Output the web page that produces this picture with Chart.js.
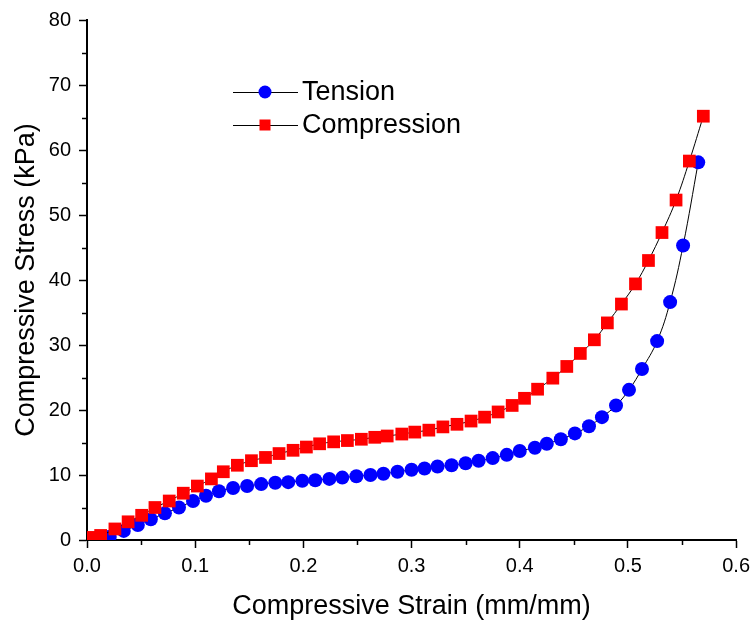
<!DOCTYPE html>
<html><head><meta charset="utf-8">
<script src="https://cdn.jsdelivr.net/npm/chart.js@4/dist/chart.umd.min.js"></script>
<style>html,body{margin:0;padding:0;background:#fff;}#wrap{width:756px;height:625px;position:relative;}</style>
</head><body><div id="wrap"><canvas id="c" width="756" height="625"></canvas></div>
<script>
const tensionStrain = [0.002,0.009,0.021,0.034,0.047,0.059,0.072,0.085,0.098,0.110,0.122,0.135,0.148,0.161,0.174,0.186,0.199,0.211,0.224,0.236,0.249,0.262,0.274,0.287,0.300,0.312,0.324,0.337,0.350,0.362,0.375,0.388,0.400,0.414,0.425,0.438,0.451,0.464,0.476,0.489,0.501,0.513,0.527,0.539,0.551,0.565];
const tensionStress = [0.05,0.2,0.5,1.4,2.3,3.2,4.1,5.0,6.0,6.8,7.5,8.0,8.3,8.6,8.8,8.9,9.1,9.2,9.4,9.6,9.8,10.0,10.2,10.5,10.8,11.0,11.3,11.5,11.8,12.2,12.6,13.1,13.7,14.2,14.8,15.5,16.4,17.5,18.9,20.7,23.1,26.3,30.6,36.6,45.3,58.1];
const compressionStrain = [0.003,0.0126,0.0258,0.038,0.0505,0.0628,0.076,0.089,0.102,0.115,0.126,0.139,0.152,0.165,0.1775,0.1905,0.2028,0.215,0.228,0.2407,0.2536,0.266,0.2775,0.291,0.303,0.316,0.329,0.342,0.355,0.3675,0.380,0.393,0.4044,0.4165,0.4306,0.4435,0.456,0.469,0.481,0.494,0.507,0.519,0.5315,0.5445,0.5568,0.5697];
const compressionStress = [0.4,0.7,1.7,2.8,3.8,5.0,6.0,7.2,8.3,9.4,10.5,11.5,12.2,12.7,13.3,13.8,14.3,14.8,15.1,15.3,15.5,15.8,16.0,16.3,16.6,16.9,17.4,17.8,18.3,18.9,19.7,20.7,21.8,23.2,24.9,26.7,28.7,30.8,33.4,36.3,39.4,43.0,47.3,52.3,58.3,65.2];
const seriesNames = ['Tension','Compression'];
const xMinorTicks = [0.05,0.15,0.25,0.35,0.45,0.55];
const yMinorTicks = [5,15,25,35,45,55,65,75];

const FONT = "'Liberation Sans', Arial, sans-serif";
const toXY = (xs, ys) => xs.map((x, i) => ({x, y: ys[i]}));

const minorTicks = {
  id: 'minorTicks',
  afterDraw(chart) {
    const {ctx, scales: {x, y}} = chart;
    ctx.save();
    ctx.strokeStyle = '#000';
    ctx.lineWidth = 1.5;
    const yb = y.bottom;
    xMinorTicks.forEach(v => {
      const px = Math.round(x.getPixelForValue(v)) + 0.5;
      ctx.beginPath(); ctx.moveTo(px, yb); ctx.lineTo(px, yb + 5); ctx.stroke();
    });
    const xl = x.left;
    yMinorTicks.forEach(v => {
      const py = Math.round(y.getPixelForValue(v)) + 0.5;
      ctx.beginPath(); ctx.moveTo(xl, py); ctx.lineTo(xl - 5, py); ctx.stroke();
    });
    ctx.restore();
  }
};

const customLegend = {
  id: 'customLegend',
  afterDraw(chart) {
    const {ctx} = chart;
    const ds = chart.data.datasets;
    const x0 = 233, x1 = 298, xm = 265, xt = 302;
    const rows = [92, 125];
    ctx.save();
    rows.forEach((yy, i) => {
      const d = ds[i];
      ctx.strokeStyle = '#000';
      ctx.lineWidth = 1;
      ctx.beginPath(); ctx.moveTo(x0, yy + 0.5); ctx.lineTo(x1, yy + 0.5); ctx.stroke();
      ctx.fillStyle = d.pointBackgroundColor;
      if (d.pointStyle === 'circle') {
        ctx.beginPath(); ctx.arc(xm, yy, 6.5, 0, Math.PI * 2); ctx.fill();
      } else {
        ctx.fillRect(xm - 5.5, yy - 5.5, 11, 11);
      }
      ctx.fillStyle = '#000';
      ctx.font = '27px ' + FONT;
      ctx.textBaseline = 'middle';
      ctx.textAlign = 'left';
      ctx.fillText(d.label, xt, yy + 1);
    });
    ctx.restore();
  }
};

new Chart(document.getElementById('c'), {
  type: 'line',
  data: {
    datasets: [
      {
        label: seriesNames[0],
        data: toXY(tensionStrain, tensionStress),
        borderColor: '#000', borderWidth: 1,
        pointStyle: 'circle', pointRadius: 7,
        pointBackgroundColor: '#0000FF', pointBorderColor: '#0000FF', pointBorderWidth: 0,
        tension: 0.4, order: 1
      },
      {
        label: seriesNames[1],
        data: toXY(compressionStrain, compressionStress),
        borderColor: '#000', borderWidth: 1,
        pointStyle: 'rect', pointRadius: 9,
        pointBackgroundColor: '#FF0000', pointBorderColor: '#FF0000', pointBorderWidth: 0,
        tension: 0.4, order: 0
      }
    ]
  },
  options: {
    responsive: false,
    animation: false,
    devicePixelRatio: 1,
    layout: {padding: {top: 19, right: 19, left: 0, bottom: 0}},
    plugins: {legend: {display: false}, tooltip: {enabled: false}},
    scales: {
      x: {
        type: 'linear', min: 0, max: 0.6,
        afterFit(s) { s.height = 85; },
        border: {color: '#000', width: 2},
        grid: {drawOnChartArea: false, drawTicks: true, tickLength: 8, color: '#000', tickWidth: 1.5},
        ticks: {stepSize: 0.1, color: '#000', padding: 6, font: {family: FONT, size: 20},
          maxRotation: 0, callback: v => Number(v).toFixed(1)},
        title: {display: true, text: 'Compressive Strain (mm/mm)', color: '#000',
          font: {family: FONT, size: 27}, padding: {top: 0, bottom: 2}}
      },
      y: {
        type: 'linear', min: 0, max: 80,
        afterFit(s) { s.width = 87; },
        border: {color: '#000', width: 2},
        grid: {drawOnChartArea: false, drawTicks: true, tickLength: 8, color: '#000', tickWidth: 1.5},
        ticks: {stepSize: 10, color: '#000', padding: 8, font: {family: FONT, size: 20}},
        title: {display: true, text: 'Compressive Stress (kPa)', color: '#000',
          font: {family: FONT, size: 27}, padding: {top: 10, bottom: 0}}
      }
    }
  },
  plugins: [minorTicks, customLegend]
});
</script></body></html>
